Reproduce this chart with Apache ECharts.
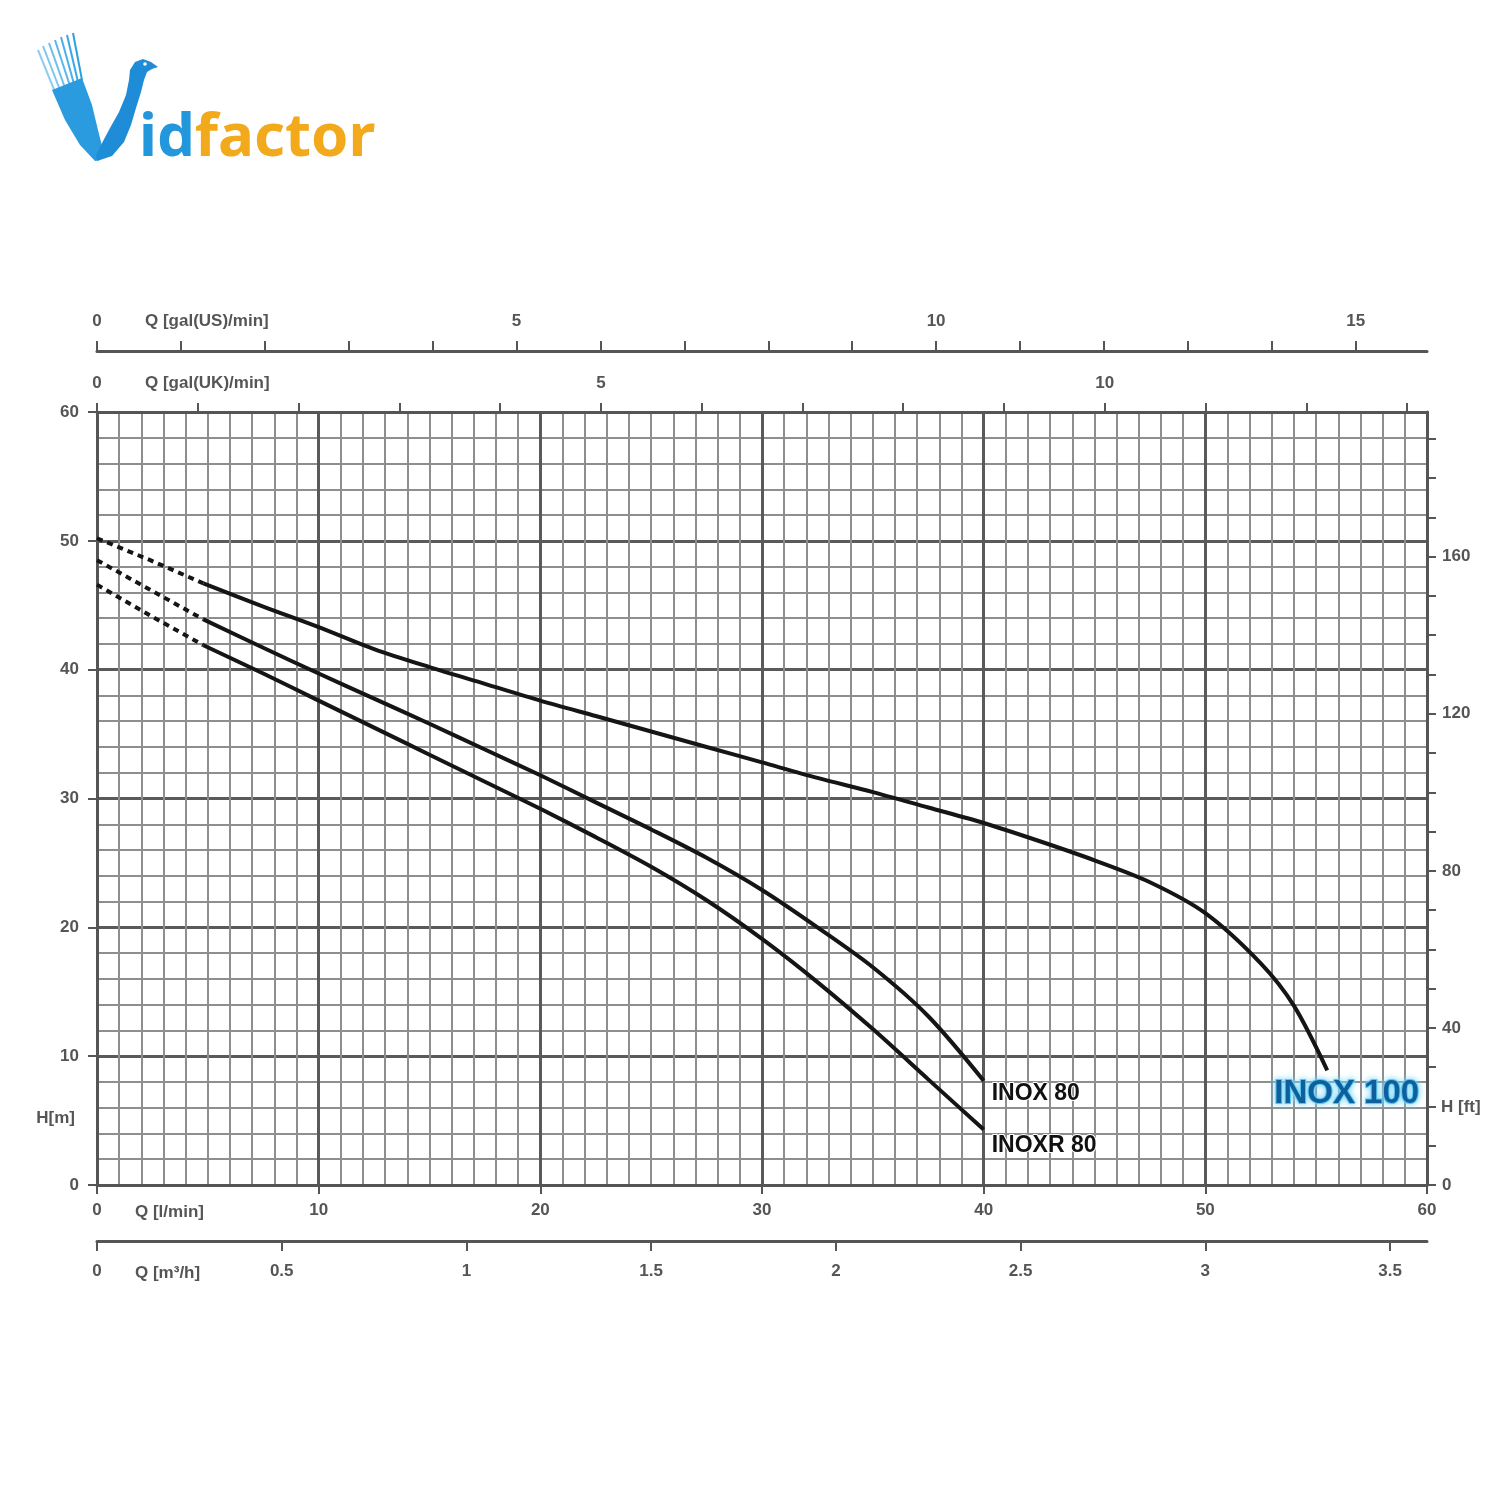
<!DOCTYPE html>
<html>
<head>
<meta charset="utf-8">
<script src="https://cdn.jsdelivr.net/npm/echarts@6/dist/echarts.min.js"></script>
<style>
html, body { margin: 0; padding: 0; background: #fff; }
#chart { width: 1500px; height: 1500px; }
</style>
</head>
<body>
<div id="chart"></div>
<script>
// pump curves: Q in l/min, H in m (dotted part = start of curve)
const inox100DotQ = [0, 2.4, 4.8];
const inox100DotH = [50.2, 48.5, 46.7];
const inox100Q = [4.8, 7.5, 10, 12.5, 15, 17.5, 20, 22.5, 25, 27.5, 30, 32.5, 35, 37.5, 40, 42.5, 45, 47.5, 50, 52.5, 54, 55.5];
const inox100H = [46.7, 44.9, 43.3, 41.6, 40.2, 38.9, 37.6, 36.4, 35.2, 34.0, 32.8, 31.6, 30.5, 29.3, 28.1, 26.7, 25.2, 23.5, 21.1, 17.2, 13.9, 8.9];

const inox80DotQ = [0, 2.4, 4.8];
const inox80DotH = [48.5, 46.2, 43.9];
const inox80Q = [4.8, 7.5, 10, 12.5, 15, 17.5, 20, 22.5, 25, 27.5, 30, 32.5, 35, 37.5, 40];
const inox80H = [43.9, 41.7, 39.7, 37.75, 35.8, 33.8, 31.8, 29.7, 27.6, 25.4, 22.9, 20.0, 16.9, 13.1, 8.1];

const inoxr80DotQ = [0, 2.4, 4.8];
const inoxr80DotH = [46.6, 44.2, 41.9];
const inoxr80Q = [4.8, 7.5, 10, 12.5, 15, 17.5, 20, 22.5, 25, 27.5, 30, 32.5, 35, 37.5, 40];
const inoxr80H = [41.9, 39.7, 37.6, 35.5, 33.4, 31.3, 29.2, 27.0, 24.7, 22.1, 19.1, 15.75, 12.1, 8.2, 4.3];

// axes
const qMax = 60;          // l/min
const hMax = 60;          // m
const ticksM3h = [0, 0.5, 1, 1.5, 2, 2.5, 3, 3.5];
const ticksUK = [0, 1, 2, 3, 4, 5, 6, 7, 8, 9, 10, 11, 12, 13];
const labelsUK = [0, 5, 10];
const ticksUS = [0, 1, 2, 3, 4, 5, 6, 7, 8, 9, 10, 11, 12, 13, 14, 15];
const labelsUS = [0, 5, 10, 15];
const ticksFt = [0, 10, 20, 30, 40, 50, 60, 70, 80, 90, 100, 110, 120, 130, 140, 150, 160, 170, 180, 190];
const labelsFt = [0, 40, 80, 120, 160];

const zip = (a, b) => a.map((v, i) => [v, b[i]]);

const txt = '#555';
const lblFont = { color: txt, fontSize: 17, fontWeight: 'bold', fontFamily: 'Liberation Sans' };
const axLine = { show: true, onZero: false, lineStyle: { color: '#555', width: 3 } };
const tick = { show: true, length: 9, lineStyle: { color: '#555', width: 2 } };

const curveStyle = { color: '#151515', width: 4 };
const dotStyle = { color: '#151515', width: 4, type: [6, 5] };

function solid(name, q, h, endLabel) {
  return {
    name: name, type: 'line', smooth: 0.3, symbol: 'none',
    data: zip(q, h), lineStyle: curveStyle, itemStyle: { color: '#151515' },
    endLabel: endLabel, z: 5
  };
}
function dotted(name, q, h) {
  return {
    name: name + ' dot', type: 'line', smooth: false, symbol: 'none',
    data: zip(q, h), lineStyle: dotStyle, itemStyle: { color: '#151515' }, z: 5
  };
}

const blackLabel = {
  show: true, formatter: '{a}', color: '#111', fontSize: 23, fontWeight: 'bold',
  fontFamily: 'Liberation Sans', textBorderColor: '#fff', textBorderWidth: 2
};

let myChart = echarts.init(document.getElementById('chart'));
myChart.setOption({
  animation: false,
  backgroundColor: '#fff',
  grid: { left: 97, right: 73, top: 412, bottom: 315, containLabel: false },
  xAxis: [
    {
      type: 'value', position: 'bottom', min: 0, max: qMax, interval: 10,
      axisLine: axLine, axisTick: tick,
      axisLabel: Object.assign({ margin: 17 }, lblFont),
      splitLine: { show: true, lineStyle: { color: '#5a5a5a', width: 3 } },
      minorTick: { show: false, splitNumber: 10 },
      minorSplitLine: { show: true, lineStyle: { color: '#8e8e8e', width: 2 } }
    },
    {
      type: 'value', position: 'bottom', offset: 56, min: 0, max: qMax * 0.06,
      axisLine: axLine, axisTick: Object.assign({ customValues: ticksM3h }, tick, { length: 10 }),
      axisLabel: Object.assign({ margin: 22, customValues: ticksM3h }, lblFont),
      splitLine: { show: false }
    },
    {
      type: 'value', position: 'top', min: 0, max: qMax / 4.54609,
      axisLine: axLine, axisTick: Object.assign({ customValues: ticksUK }, tick),
      axisLabel: Object.assign({ margin: 20, customValues: labelsUK }, lblFont),
      splitLine: { show: false }
    },
    {
      type: 'value', position: 'top', offset: 61, min: 0, max: qMax / 3.78541,
      axisLine: axLine, axisTick: Object.assign({ customValues: ticksUS }, tick, { length: 10 }),
      axisLabel: Object.assign({ margin: 21, customValues: labelsUS }, lblFont),
      splitLine: { show: false }
    }
  ],
  yAxis: [
    {
      type: 'value', position: 'left', min: 0, max: hMax, interval: 10,
      axisLine: axLine, axisTick: tick,
      axisLabel: Object.assign({ margin: 18 }, lblFont),
      splitLine: { show: true, lineStyle: { color: '#5a5a5a', width: 3 } },
      minorTick: { show: false, splitNumber: 5 },
      minorSplitLine: { show: true, lineStyle: { color: '#8e8e8e', width: 2 } }
    },
    {
      type: 'value', position: 'right', min: 0, max: hMax * 3.28084,
      axisLine: axLine, axisTick: Object.assign({ customValues: ticksFt }, tick),
      axisLabel: Object.assign({ margin: 15, customValues: labelsFt }, lblFont),
      splitLine: { show: false }
    }
  ],
  series: [
    dotted('INOX 100', inox100DotQ, inox100DotH),
    dotted('INOX 80', inox80DotQ, inox80DotH),
    dotted('INOXR 80', inoxr80DotQ, inoxr80DotH),
    solid('INOX 100', inox100Q, inox100H, {
      show: true, formatter: '{a}', color: '#0e5f9c', fontSize: 33, fontWeight: 'bold',
      fontFamily: 'Liberation Sans', textBorderColor: '#45c4f2', textBorderWidth: 2,
      textShadowColor: '#7fd6f7', textShadowBlur: 6, offset: [-61, 24]
    }),
    solid('INOX 80', inox80Q, inox80H, Object.assign({ offset: [0, 13] }, blackLabel)),
    solid('INOXR 80', inoxr80Q, inoxr80H, Object.assign({ offset: [0, 16] }, blackLabel))
  ],
  graphic: [
    // axis names
    { type: 'text', x: 145, y: 321, style: { text: 'Q [gal(US)/min]', fill: txt, font: 'bold 17px "Liberation Sans"', verticalAlign: 'middle' } },
    { type: 'text', x: 145, y: 383, style: { text: 'Q [gal(UK)/min]', fill: txt, font: 'bold 17px "Liberation Sans"', verticalAlign: 'middle' } },
    { type: 'text', x: 135, y: 1212, style: { text: 'Q [l/min]', fill: txt, font: 'bold 17px "Liberation Sans"', verticalAlign: 'middle' } },
    { type: 'text', x: 135, y: 1273, style: { text: 'Q [m³/h]', fill: txt, font: 'bold 17px "Liberation Sans"', verticalAlign: 'middle' } },
    { type: 'text', x: 75, y: 1118, style: { text: 'H[m]', fill: txt, font: 'bold 17px "Liberation Sans"', align: 'right', verticalAlign: 'middle' } },
    { type: 'text', x: 1441, y: 1107, style: { text: 'H [ft]', fill: txt, font: 'bold 17px "Liberation Sans"', verticalAlign: 'middle' } },
    // logo
    { type: 'line', shape: { x1: 38, y1: 50, x2: 55, y2: 92 }, style: { stroke: '#8fcdf1', lineWidth: 2 } },
    { type: 'line', shape: { x1: 43, y1: 46, x2: 60, y2: 90 }, style: { stroke: '#7fc6ef', lineWidth: 2 } },
    { type: 'line', shape: { x1: 49, y1: 43, x2: 65, y2: 88 }, style: { stroke: '#6ebeec', lineWidth: 2 } },
    { type: 'line', shape: { x1: 55, y1: 40, x2: 70, y2: 86 }, style: { stroke: '#5db6e9', lineWidth: 2 } },
    { type: 'line', shape: { x1: 61, y1: 37, x2: 74, y2: 84 }, style: { stroke: '#4caee6', lineWidth: 2 } },
    { type: 'line', shape: { x1: 67, y1: 35, x2: 78, y2: 82 }, style: { stroke: '#3ba6e3', lineWidth: 2 } },
    { type: 'line', shape: { x1: 73, y1: 33, x2: 82, y2: 80 }, style: { stroke: '#2e9fe0', lineWidth: 2 } },
    {
      type: 'polygon',
      shape: { points: [[52, 90], [82, 78], [92, 105], [98, 130], [103, 150], [100, 160], [95, 161], [80, 145], [65, 120]] },
      style: { fill: '#2b9be0' }
    },
    {
      type: 'polygon',
      shape: { points: [[97, 161], [112, 156], [124, 142], [131, 125], [136, 108], [141, 92], [144, 80], [147, 72], [152, 69], [158, 67], [151, 62], [143, 59], [135, 62], [130, 70], [129, 80], [126, 95], [119, 112], [110, 128], [102, 143], [96, 155]] },
      style: { fill: '#1e8cd6' }
    },
    { type: 'circle', shape: { cx: 145, cy: 64, r: 1.8 }, style: { fill: '#fff' } },
    {
      type: 'text', x: 139, y: 139,
      style: {
        text: '{a|id}{b|factor}', verticalAlign: 'middle',
        rich: {
          a: { fill: '#2297dc', fontSize: 60, fontWeight: 'bold', fontFamily: 'Noto Sans' },
          b: { fill: '#f2a91c', fontSize: 60, fontWeight: 'bold', fontFamily: 'Noto Sans' }
        }
      }
    }
  ]
});
</script>
</body>
</html>
